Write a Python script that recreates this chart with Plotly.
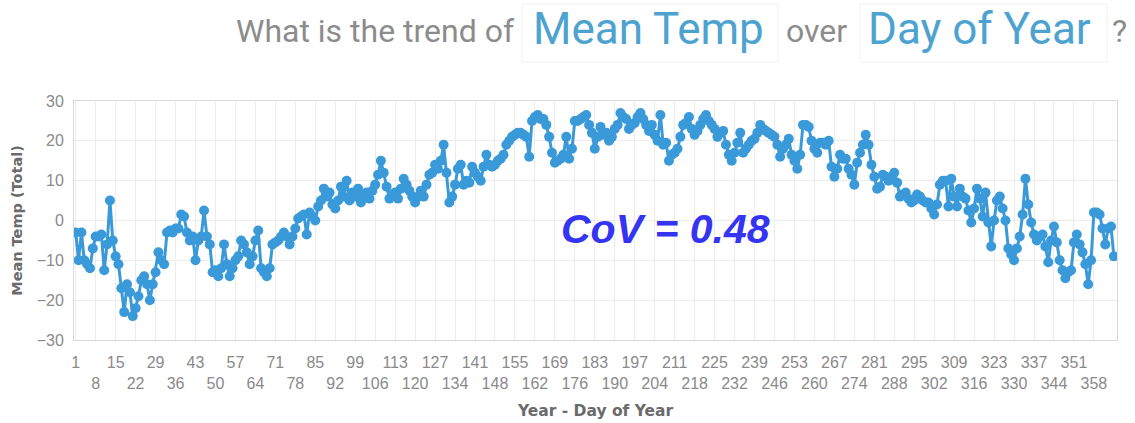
import plotly.graph_objects as go

# Mean temperature per day of year
temps_001_045 = [-3, -10, -3, -10, -11, -12, -7, -4, -4, -3.5, -12.5, -6, 5, -5, -9,
                 -11, -17, -23, -16, -18, -24, -22, -19, -15, -14, -16, -20, -16, -13, -8,
                 -10, -11, -3, -2.5, -3, -2, -2, 1.5, 1, -3, -5, -4, -10, -5, -4]
temps_046_090 = [2.5, -4, -6, -13, -12.5, -14, -12, -6, -11, -14, -12, -10, -9, -5, -6,
                 -8, -11, -9, -5, -2.5, -12, -13, -14, -12, -6, -5.5, -5, -4, -3, -4,
                 -6, -4, -2, 0.5, 1, 1.5, -3.5, 2, 1, 0, 3.5, 5, 8, 6, 7]
temps_091_135 = [4, 3, 5, 8.5, 6, 10, 5, 7, 6, 8, 4.5, 6, 7, 5.5, 7.5,
                 9, 11.5, 15, 12, 8.5, 5.5, 6.5, 7, 5.5, 8, 10.5, 9, 7.5, 6, 4.5,
                 6, 7.5, 6, 9, 11.5, 12, 14, 13, 15, 19, 12, 4.5, 6, 9, 13]
temps_136_180 = [14, 9, 10, 9.5, 13.5, 12, 11, 10, 13.5, 16.5, 14, 13.5, 14, 15, 15.5,
                 16.5, 19, 20, 21, 21.5, 22, 22, 21.5, 21, 16, 25, 26, 26.5, 25.5, 25.5,
                 24, 21, 17, 14.5, 15, 15.5, 16.5, 21, 15.5, 18, 25, 25, 25.5, 26, 26.5]
temps_181_225 = [24, 22, 18, 21, 23.5, 21.5, 22, 20, 21, 23, 24, 27, 26, 25.5, 23,
                 24, 24.5, 26, 27, 25.5, 24, 22.5, 24, 21.5, 20, 26.5, 19, 19.5, 15, 16.5,
                 17, 18, 21, 24, 24.5, 26, 23, 21.5, 22.5, 24, 25.5, 26.5, 25, 24, 23]
temps_226_270 = [21, 22, 22.5, 19, 16.5, 15, 17, 19.5, 22, 17, 18, 19, 20, 20.5, 22,
                 24, 23, 22.5, 22, 21.5, 21, 19, 16, 18, 19, 20.5, 16.5, 15, 13, 16.5,
                 24, 24, 23.5, 20, 18, 17, 19.5, 19.5, 19, 20, 13.5, 11, 13, 16.5, 15.5]
temps_271_317 = [15.5, 13, 11.5, 9, 14.5, 17, 19, 21.5, 19, 14, 11, 8, 8.5, 11.5, 11,
                 10, 11, 12, 9.5, 6, 6.5, 7, 5.5, 4.5, 5, 6.5, 6, 5, 4.5, 4.5,
                 3, 1.5, 4, 9, 10, 10, 3.5, 10.5, 6, 3.5, 8, 6, 5.5, 2.5, -0.5,
                 3, 8]
temps_318_365 = [5.5, 1, 7, -0.5, -6.5, 0, 5, 6, 3, 0, -7, -8.5, -10, -7, -4,
                 1.5, 10.5, 4, -0.5, -3.5, -5, -4, -3.5, -6.5, -10.5, -5, -1.5, -5.5, -10, -12.5,
                 -14.5, -13, -12.5, -5.5, -3.5, -6, -8, -11, -16, -10, 2, 2, 1.5, -2, -6,
                 -2, -1.5, -9]

mean_temp = (temps_001_045 + temps_046_090 + temps_091_135 + temps_136_180 +
             temps_181_225 + temps_226_270 + temps_271_317 + temps_318_365)
days = list(range(1, len(mean_temp) + 1))

tick_days = list(range(1, 365, 7))
tick_text = [str(d) if i % 2 == 0 else "<br>" + str(d) for i, d in enumerate(tick_days)]
y_ticks = [-30, -20, -10, 0, 10, 20, 30]

cov_text = "CoV = 0.48"

LINE_BLUE = "#3a9ad9"
fig = go.Figure()
fig.add_trace(go.Scatter(
    x=days, y=mean_temp, mode="lines+markers",
    line=dict(color=LINE_BLUE, width=3),
    marker=dict(color=LINE_BLUE, size=10),
    hoverinfo="x+y", showlegend=False,
))

W, H = 1135, 423
L, R, T, B = 74, 18, 101, 83
pw, ph = W - L - R, H - T - B


def px(x):
    return (x - L) / pw


def py(y):
    return (H - B - y) / ph


title_parts = [
    ("What is the trend of", 234, "#8c8c8c", 32, 31),
    ("Mean Temp", 531, "#4da3cf", 44, 29),
    ("over", 784, "#8c8c8c", 32, 31),
    ("Day of Year", 866, "#4da3cf", 44, 29),
    ("?", 1110, "#8c8c8c", 32, 31),
]
annotations = []
for text, x0, col, size, yc in title_parts:
    annotations.append(dict(
        text=text, x=px(x0), y=py(yc), xref="paper", yref="paper",
        xanchor="left", yanchor="middle", showarrow=False,
        font=dict(family="Roboto", size=size, color=col),
    ))
annotations.append(dict(
    text="<b><i>" + cov_text + "</i></b>", x=px(665), y=py(229), xref="paper", yref="paper",
    xanchor="center", yanchor="middle", showarrow=False,
    font=dict(family="Liberation Sans", size=41, color="#3434f2"),
))

shapes = []
for x0, x1 in [(522, 778), (860, 1107)]:
    shapes.append(dict(type="rect", xref="paper", yref="paper",
                       x0=px(x0), x1=px(x1), y0=py(62), y1=py(4),
                       line=dict(color="#f1f1f1", width=1), fillcolor="rgba(0,0,0,0)"))

fig.update_layout(
    width=W, height=H,
    margin=dict(l=L, r=R, t=T, b=B),
    paper_bgcolor="white", plot_bgcolor="white",
    annotations=annotations, shapes=shapes,
    xaxis=dict(
        range=[0.4, 366.1], tickmode="array", tickvals=tick_days, ticktext=tick_text,
        tickangle=0, ticklabelstandoff=8, automargin=False,
        showgrid=True, gridcolor="#ececec", gridwidth=1,
        showline=True, linecolor="#d9d9d9", linewidth=1, mirror=True,
        zeroline=False, ticks="",
        tickfont=dict(family="Liberation Sans", size=16, color="#8a8a8a"),
        title=dict(text="<b>Year - Day of Year</b>", standoff=14,
                   font=dict(family="DejaVu Sans", size=15.5, color="#6a6a6a")),
    ),
    yaxis=dict(
        range=[-30, 30], tickmode="array", tickvals=y_ticks, automargin=False,
        showgrid=True, gridcolor="#ececec", gridwidth=1,
        showline=True, linecolor="#d9d9d9", linewidth=1, mirror=True,
        zeroline=False, ticks="", ticklabelstandoff=6,
        tickfont=dict(family="Liberation Sans", size=16, color="#8a8a8a"),
        title=dict(text="<b>Mean Temp (Total)</b>", standoff=10,
                   font=dict(family="DejaVu Sans", size=14.5, color="#6a6a6a")),
    ),
)

fig.write_html("out.html", config={"displayModeBar": False},
               post_script="document.body.style.margin='0';")
